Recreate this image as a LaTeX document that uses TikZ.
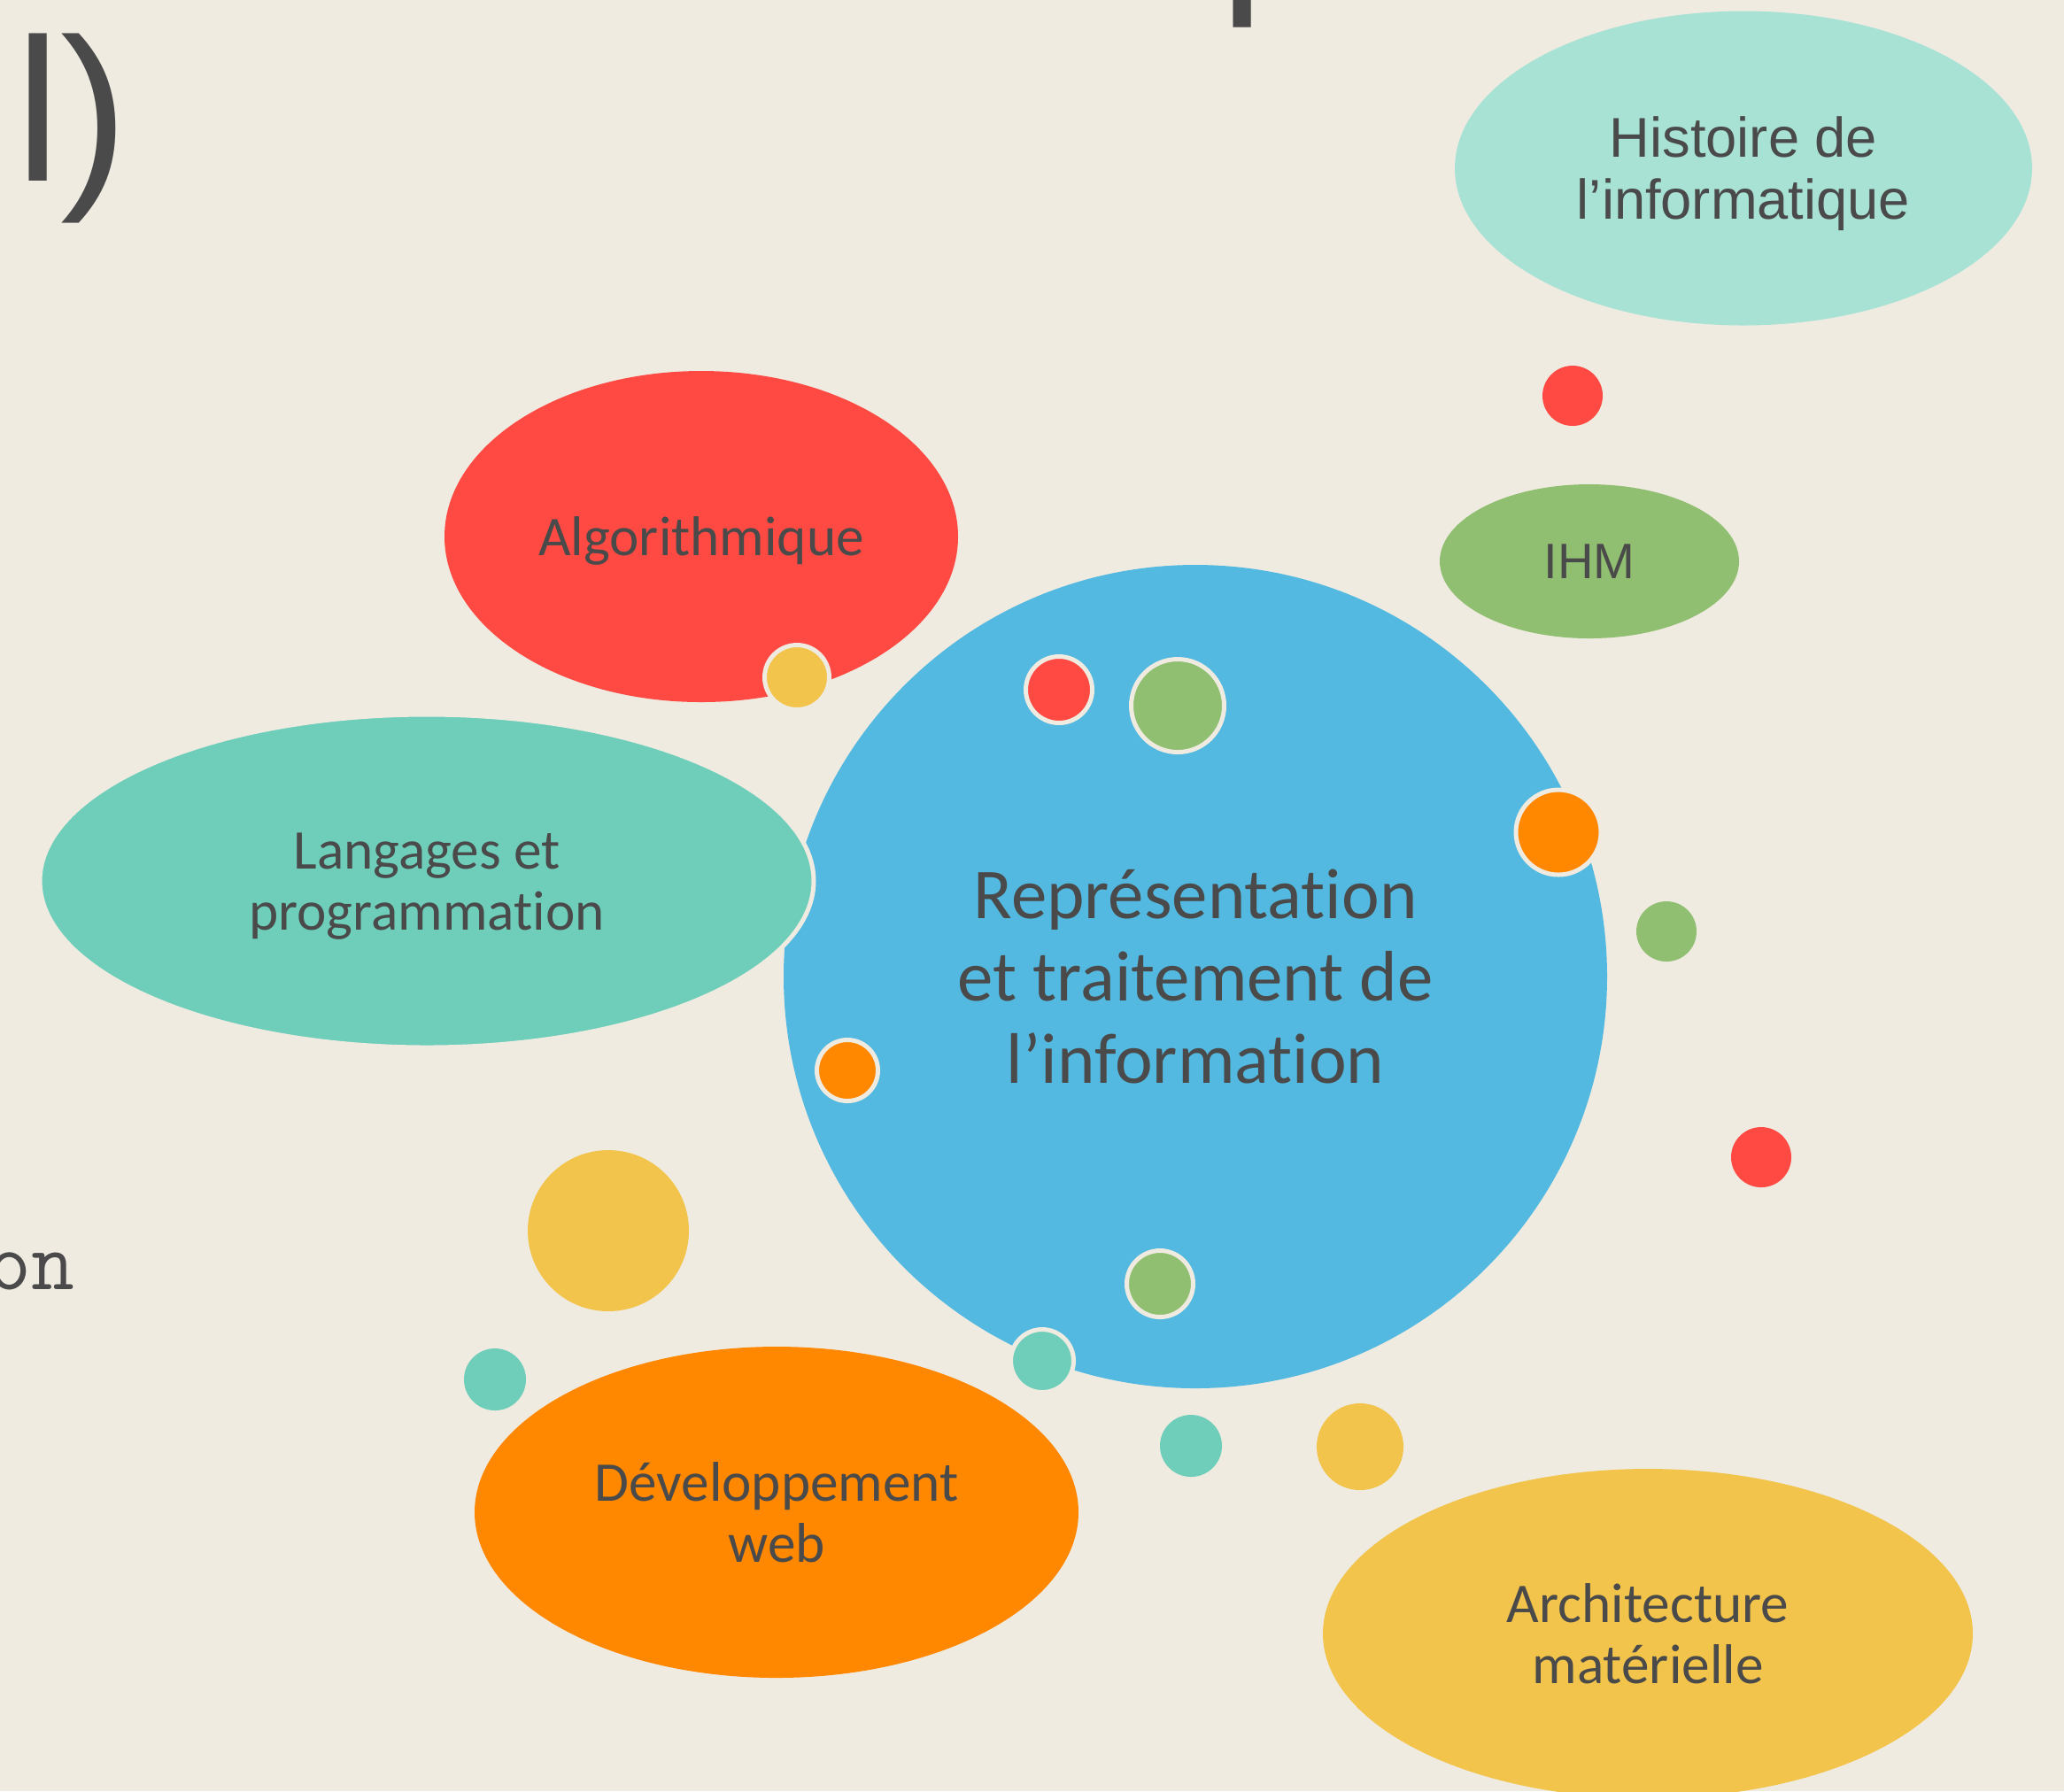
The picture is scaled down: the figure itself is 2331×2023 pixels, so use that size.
\documentclass[tikz,border=0pt]{standalone}
\usepackage{fontspec}
\setmainfont{Carlito}[Ligatures=NoCommon]
\newfontfamily\arialfont{Liberation Sans}
\usetikzlibrary{shapes.geometric}
\definecolor{cBg}{HTML}{EFEBE1}
\definecolor{cTxt}{HTML}{4A4A4A}
\definecolor{cBlue}{HTML}{53B9E0}
\definecolor{cRed}{HTML}{FF4A44}
\definecolor{cTeal}{HTML}{6ECEBA}
\definecolor{cTealL}{HTML}{A7E2D5}
\definecolor{cGreen}{HTML}{91BF71}
\definecolor{cOrng}{HTML}{FF8800}
\definecolor{cYel}{HTML}{F2C44B}

\begin{document}
\begin{tikzpicture}[x=0.1mm, y=-0.1mm,
    blob/.style={ellipse, inner sep=0pt, align=center, text=cTxt,
                 font=\fontsize{18}{19.6}\selectfont},
    ablob/.style={blob, font=\arialfont\fontsize{18}{19.9}\selectfont},
    lbl/.style={inner sep=0pt, align=center, text=cTxt,
                font=\fontsize{18}{19.6}\selectfont},
    albl/.style={lbl, font=\arialfont\fontsize{18}{19.9}\selectfont},
    core/.style={circle, inner sep=0pt, align=center, text=cTxt,
                 fill=cBlue, minimum size=93mm,
                 font=\fontsize{23}{26.5}\selectfont},
    dot/.style={circle, inner sep=0pt},
    bdot/.style={dot, draw=cBg, line width=0.5mm},
    bgtxt/.style={text=cTxt, inner sep=0pt, anchor=base west},
]

% === page, clipped to the slide part ===
\fill[cBg] (0,0) rectangle (2331,2023);
\clip (0,0) rectangle (2331,2023);

% === leftovers of the slide text ===
\node[bgtxt, font=\arialfont\fontsize{65.4}{70}\selectfont] (ttl) at (17,204) {l)};
\node[bgtxt, font=\arialfont\fontsize{65.4}{70}\selectfont] (ttp) at (1377,-17) {p};
\node[bgtxt, font=\ttfamily\fontsize{27}{30}\selectfont] (txo) at (-14,1456) {on};

% === outer topics ===
\node[ablob, fill=cTealL, minimum width=65.2mm, minimum height=35.5mm] (hist) at (1969,190) {};
\node[albl] (histT) at ([yshift=-0.6mm]hist.center) {Histoire de\\l’informatique};

\node[ablob, fill=cGreen, minimum width=33.8mm, minimum height=17.4mm,
      font=\arialfont\fontsize{16}{18}\selectfont] (ihm) at (1795,634) {IHM};

\node[blob, fill=cRed, minimum width=58mm, minimum height=37.4mm] (algo) at (792,606) {};
\node[lbl] (algoT) at ([yshift=-0.45mm]algo.center) {Algorithmique};

% === centre ===
\node[core] (rep) at (1350,1103) {Représentation\\et traitement de\\l’information};

\node[blob, fill=cTeal, draw=cBg, line width=0.5mm, minimum width=87.4mm,
      minimum height=37.6mm] (lang) at (482,995) {};
\node[lbl] (langT) at ([yshift=-0.6mm]lang.center) {Langages et\\programmation};

\node[blob, fill=cOrng, minimum width=68.2mm, minimum height=37.4mm] (web) at (877,1708)
    {Développement\\web};
\node[blob, fill=cYel, minimum width=73.4mm, minimum height=37.2mm] (archi) at (1861,1845)
    {Architecture\\matérielle};

% === bubbles ===
\node[bdot, fill=cYel,   minimum size=7.3mm]  (b1)  at (900,765)   {};
\node[bdot, fill=cRed,   minimum size=7.5mm]  (b2)  at (1196,779)  {};
\node[bdot, fill=cGreen, minimum size=10.5mm] (b3)  at (1330,797)  {};
\node[bdot, fill=cOrng,  minimum size=9.6mm]  (b4)  at (1760,940)  {};
\node[dot,  fill=cGreen, minimum size=6.8mm]  (b5)  at (1882,1052) {};
\node[dot,  fill=cRed,   minimum size=6.8mm]  (b6)  at (1776,447)  {};
\node[dot,  fill=cRed,   minimum size=6.8mm]  (b7)  at (1989,1307) {};
\node[bdot, fill=cOrng,  minimum size=6.9mm]  (b8)  at (957,1209)  {};
\node[dot,  fill=cYel,   minimum size=18.2mm] (b9)  at (687,1390)  {};
\node[dot,  fill=cTeal,  minimum size=7mm]    (b10) at (559,1558)  {};
\node[bdot, fill=cGreen, minimum size=7.5mm]  (b11) at (1310,1450) {};
\node[bdot, fill=cTeal,  minimum size=7.1mm]  (b12) at (1177,1537) {};
\node[dot,  fill=cTeal,  minimum size=7mm]    (b13) at (1345,1633) {};
\node[dot,  fill=cYel,   minimum size=9.8mm]  (b14) at (1536,1634) {};

\end{tikzpicture}
\end{document}
